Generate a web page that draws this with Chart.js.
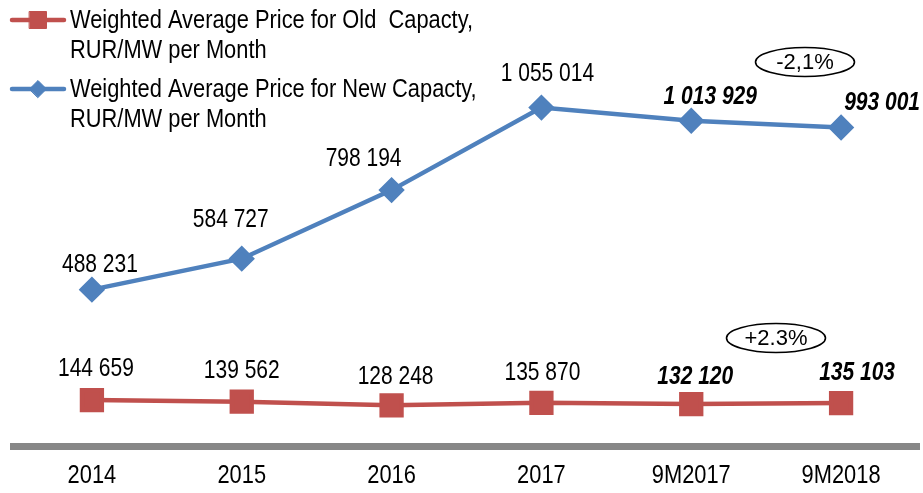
<!DOCTYPE html>
<html><head><meta charset="utf-8">
<script src="https://cdn.jsdelivr.net/npm/chart.js@4/dist/chart.umd.min.js"></script>
<style>html,body{margin:0;padding:0;background:#fff}#wrap{width:923px;height:493px}</style>
</head><body><div id="wrap"><canvas id="c" width="923" height="493"></canvas></div>
<script>
const categories = ['2014', '2015', '2016', '2017', '9M2017', '9M2018'];
const oldCapacity = [144659, 139562, 128248, 135870, 132120, 135103];
const newCapacity = [488231, 584727, 798194, 1055014, 1013929, 993001];
const oldLabel = ['Weighted Average Price for Old  Capacty,', 'RUR/MW per Month'];
const newLabel = ['Weighted Average Price for New Capacty,', 'RUR/MW per Month'];
const emphasisFrom = 4;
const changeNew = '-2,1%';
const changeOld = '+2.3%';

// label placement nudges (layout only, [dx, dy] relative to each point)
const oldLabelNudge = [[4, -31], [0, -31], [4, -28], [1, -30], [4, -27], [16, -30]];
const newLabelNudge = [[8, -25], [-11, -39], [-28, -31], [6, -33], [19, -24], [41, -24]];

const FONT = '"Liberation Sans Narrow", "Arial Narrow", "Liberation Sans", Arial, sans-serif';
const WIDE_FONT = '"Liberation Sans", Arial, sans-serif';
const RED = '#C0504D', BLUE = '#4F81BD';
const NARROW = 0.84;

function fmt(v) { return String(v).replace(/\B(?=(\d{3})+(?!\d))/g, ' '); }

const canvas = document.getElementById('c');
const ctx2d = canvas.getContext('2d');
const origFillText = ctx2d.fillText;
ctx2d.fillText = function (text, x, y) {
  this.save();
  this.translate(x, y);
  this.scale(NARROW, 1);
  origFillText.call(this, text, 0, 0);
  this.restore();
};

const overlay = {
  id: 'overlay',
  beforeDatasetsDraw(chart) {
    const ctx = chart.ctx;
    const y0 = chart.scales.y.getPixelForValue(0);
    ctx.save();
    ctx.fillStyle = '#878787';
    ctx.fillRect(10, y0 - 3.5, 910, 7);
    ctx.restore();
  },
  afterDatasetsDraw(chart) {
    const ctx = chart.ctx;
    ctx.save();
    ctx.fillStyle = '#000';
    ctx.textAlign = 'center';
    ctx.textBaseline = 'middle';
    const nudges = [oldLabelNudge, newLabelNudge];
    chart.data.datasets.forEach((ds, di) => {
      const meta = chart.getDatasetMeta(di);
      meta.data.forEach((pt, i) => {
        const n = nudges[di][i];
        ctx.font = (i >= emphasisFrom ? 'italic bold ' : '') + '25px ' + FONT;
        ctx.fillText(fmt(ds.data[i]), pt.x + n[0], pt.y + n[1]);
      });
    });
    // legend
    const legendRows = [{ ds: 0, y: 20 }, { ds: 1, y: 89 }];
    legendRows.forEach(r => {
      const ds = chart.data.datasets[r.ds];
      ctx.strokeStyle = ds.borderColor;
      ctx.lineWidth = 4.5;
      ctx.lineCap = 'round';
      ctx.beginPath(); ctx.moveTo(12, r.y); ctx.lineTo(64, r.y); ctx.stroke();
      ctx.fillStyle = ds.pointBackgroundColor;
      ctx.strokeStyle = ds.pointBorderColor;
      ctx.lineWidth = 1;
      Chart.helpers.drawPoint(ctx, { pointStyle: ds.pointStyle, radius: ds.pointStyle === 'rect' ? 12 : 8.5, borderWidth: 1 }, 38, r.y);
      ctx.fillStyle = '#000';
      ctx.textAlign = 'left';
      ctx.font = '26px ' + FONT;
      ds.label.forEach((t, k) => ctx.fillText(t, 70, r.y + 1 + k * 30));
    });
    // change ellipses
    const notes = [{ t: changeNew, x: 805, y: 62 }, { t: changeOld, x: 776, y: 338 }];
    notes.forEach(n => {
      ctx.beginPath();
      ctx.ellipse(n.x, n.y, 49.5, 14.5, 0, 0, Math.PI * 2);
      ctx.lineWidth = 1.6; ctx.strokeStyle = '#000'; ctx.stroke();
      ctx.fillStyle = '#000'; ctx.textAlign = 'center';
      ctx.font = '22px ' + WIDE_FONT;
      origFillText.call(ctx, n.t, n.x, n.y + 1);
    });
    ctx.restore();
  }
};

new Chart(canvas, {
  type: 'line',
  data: {
    labels: categories,
    datasets: [
      { label: oldLabel, data: oldCapacity, borderColor: RED, backgroundColor: RED, pointBackgroundColor: RED, pointBorderColor: RED,
        borderWidth: 4.5, pointStyle: 'rect', pointRadius: 14, pointHoverRadius: 14, tension: 0, clip: false },
      { label: newLabel, data: newCapacity, borderColor: BLUE, backgroundColor: BLUE, pointBackgroundColor: BLUE, pointBorderColor: BLUE,
        borderWidth: 4.5, pointStyle: 'rectRot', pointRadius: 10, pointHoverRadius: 10, tension: 0, clip: false }
    ]
  },
  options: {
    responsive: false, animation: false, devicePixelRatio: 1,
    layout: { autoPadding: false, padding: { left: 17, right: 7, top: 0, bottom: 0 } },
    plugins: { legend: { display: false }, tooltip: { enabled: false } },
    scales: {
      x: { offset: true, grid: { display: false, drawTicks: false }, border: { display: false },
           afterFit(s) { s.height = 46.5; },
           ticks: { color: '#000', padding: 14, maxRotation: 0, font: { family: FONT, size: 26 } } },
      y: { display: false, min: 0, max: 1390000 }
    }
  },
  plugins: [overlay]
});
</script></body></html>
